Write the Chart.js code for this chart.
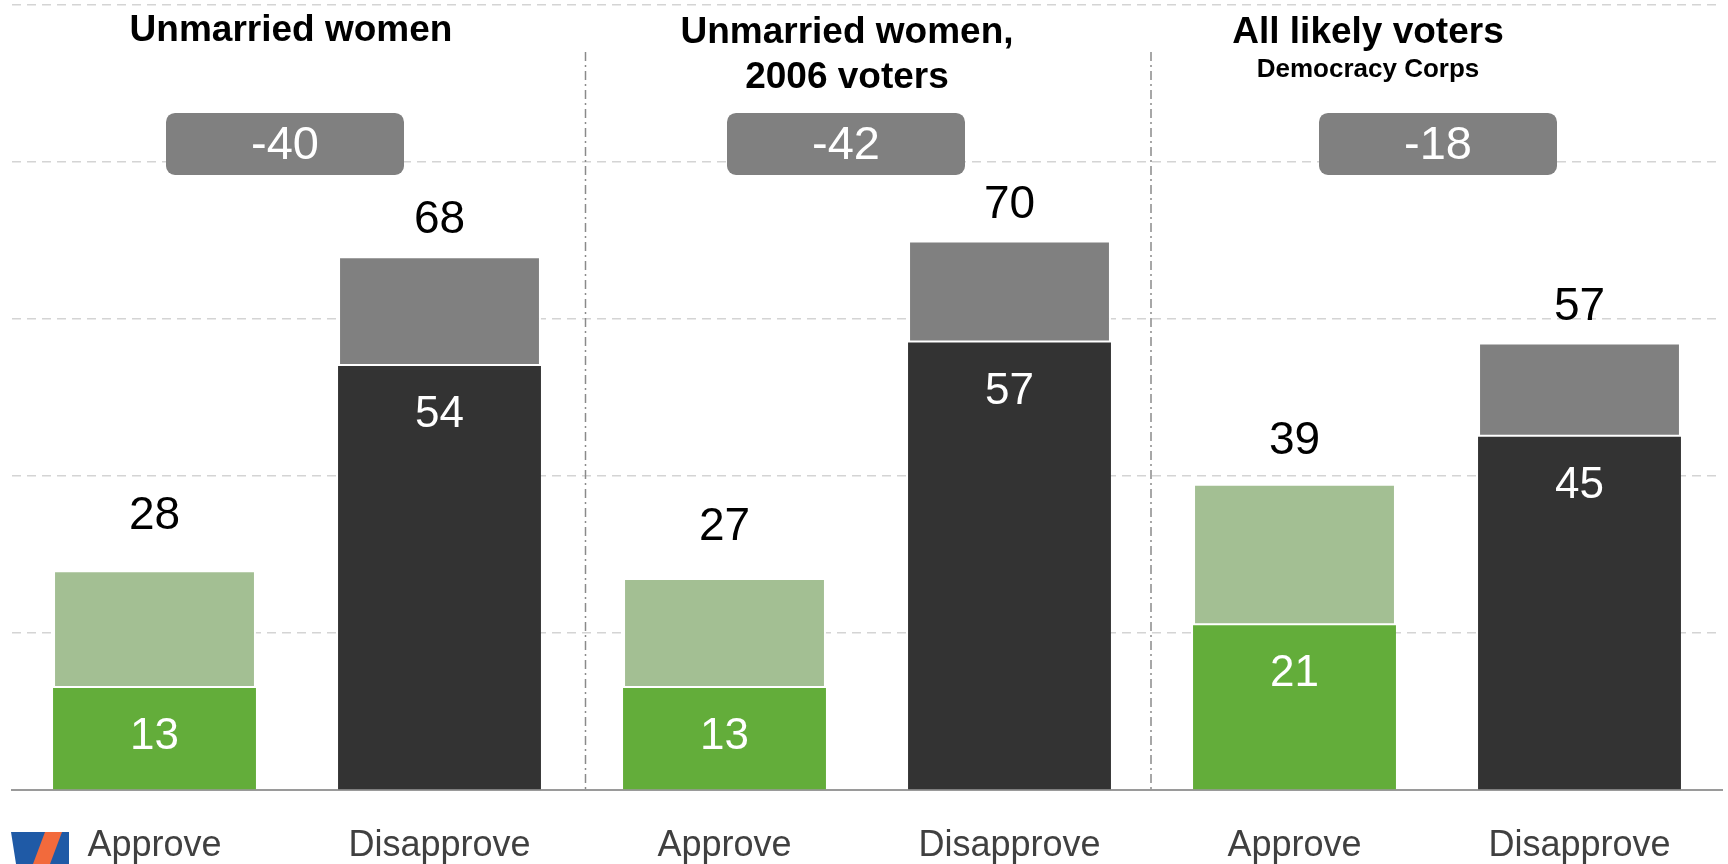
<!DOCTYPE html>
<html>
<head>
<meta charset="utf-8">
<script src="https://cdn.jsdelivr.net/npm/chart.js@4/dist/chart.umd.min.js"></script>
<style>
  html, body { margin: 0; padding: 0; background: #fff; }
  #wrap { width: 1728px; height: 864px; position: relative; }
</style>
</head>
<body>
<div id="wrap"><canvas id="chart"></canvas></div>
<script>
// approve / disapprove, strong vs total, three groups

const categories = ['Approve', 'Disapprove', 'Approve', 'Disapprove', 'Approve', 'Disapprove'];
const strongValues = [13, 54, 13, 57, 21, 45];
const totalValues = [28, 68, 27, 70, 39, 57];
const netValues = [-40, -42, -18];
const groupTitles = [['Unmarried women'], ['Unmarried women,', '2006 voters'], ['All likely voters']];
const groupSubtitles = ['', '', 'Democracy Corps'];

const strongColors = ['#63AD3A', '#333333', '#63AD3A', '#333333', '#63AD3A', '#333333'];
const softColors = ['#A3BF93', '#808080', '#A3BF93', '#808080', '#A3BF93', '#808080'];

const FONT = "'Liberation Sans', Arial, sans-serif";
// pixel nudges of the titles, net boxes, separators and total labels
const titleShift = [-6, -20, -69];
const boxShift = [-12, -21, 1];
const sepShift = [3.5, -1];
const totalLift = [54, 36, 51, 35, 43, 35];

const overlay = {
  id: 'overlay',
  beforeDatasetsDraw(chart) {
    const { ctx, scales: { x, y }, chartArea } = chart;
    ctx.save();
    ctx.strokeStyle = '#8a8a8a';
    ctx.lineWidth = 1.5;
    ctx.setLineDash([9, 4, 2, 4]);
    [1.5, 3.5].forEach((v, k) => {
      const px = Math.round(x.getPixelForValue(v)) + sepShift[k];
      ctx.beginPath();
      ctx.moveTo(px, y.getPixelForValue(94));
      ctx.lineTo(px, chartArea.bottom);
      ctx.stroke();
    });
    ctx.restore();
  },
  afterDatasetsDraw(chart) {
    const { ctx, scales: { x, y } } = chart;
    const strong = chart.getDatasetMeta(0).data;
    const soft = chart.getDatasetMeta(1).data;
    ctx.save();
    ctx.textAlign = 'center';
    ctx.textBaseline = 'middle';
    strong.forEach((bar, i) => {
      ctx.fillStyle = '#fff';
      ctx.font = `44px ${FONT}`;
      ctx.fillText(String(strongValues[i]), bar.x, bar.y + 49);
      ctx.fillStyle = '#000';
      ctx.font = `46px ${FONT}`;
      ctx.fillText(String(totalValues[i]), soft[i].x, soft[i].y - totalLift[i]);
    });

    netValues.forEach((v, g) => {
      const cx = (x.getPixelForValue(2 * g) + x.getPixelForValue(2 * g + 1)) / 2;
      // titles
      const tx = cx + titleShift[g];
      ctx.fillStyle = '#000';
      ctx.textBaseline = 'alphabetic';
      ctx.font = `bold 37px ${FONT}`;
      groupTitles[g].forEach((line, k) => ctx.fillText(line, tx, (k === 0 && groupTitles[g].length === 1 && !groupSubtitles[g] ? 41 : 43) + k * 45));
      if (groupSubtitles[g]) {
        ctx.font = `bold 26px ${FONT}`;
        ctx.fillText(groupSubtitles[g], tx, 77);
      }
      // net box
      const bx = cx + boxShift[g];
      const by = y.getPixelForValue(82.3);
      ctx.fillStyle = '#808080';
      ctx.beginPath();
      ctx.roundRect(bx - 119, by - 31, 238, 62, 9);
      ctx.fill();
      ctx.fillStyle = '#fff';
      ctx.textBaseline = 'middle';
      ctx.font = `47px ${FONT}`;
      ctx.fillText(String(v), bx, by + 2);
    });

    // logo, bottom left
    ctx.fillStyle = '#1F5AA6';
    ctx.beginPath();
    ctx.moveTo(11, 832); ctx.lineTo(69, 832); ctx.lineTo(69, 864); ctx.lineTo(16, 864);
    ctx.closePath(); ctx.fill();
    ctx.fillStyle = '#F26A3C';
    ctx.beginPath();
    ctx.moveTo(45, 832); ctx.lineTo(62, 832); ctx.lineTo(50, 864); ctx.lineTo(33, 864);
    ctx.closePath(); ctx.fill();
    ctx.restore();
  }
};

new Chart(document.getElementById('chart').getContext('2d'), {
  type: 'bar',
  data: {
    labels: categories,
    datasets: [
      {
        label: 'Strongly',
        data: strongValues,
        backgroundColor: strongColors,
        grouped: false,
        categoryPercentage: 1,
        barPercentage: 0.712,
        borderWidth: 0
      },
      {
        label: 'Total',
        data: strongValues.map((v, i) => [v, totalValues[i]]),
        backgroundColor: softColors,
        borderColor: '#ffffff',
        borderWidth: 2,
        borderSkipped: false,
        grouped: false,
        categoryPercentage: 1,
        barPercentage: 0.712
      }
    ]
  },
  options: {
    responsive: true,
    maintainAspectRatio: false,
    animation: false,
    layout: { padding: { top: 5, left: 12, right: 6, bottom: 0 } },
    plugins: { legend: { display: false }, tooltip: { enabled: false } },
    scales: {
      x: {
        grid: { display: false, drawTicks: false, tickLength: 0 },
        border: { display: true, color: '#9a9a9a', width: 2 },
        ticks: {
          color: '#404040',
          font: { family: FONT, size: 36 },
          padding: 34,
          maxRotation: 0,
          autoSkip: false
        },
        afterFit(scale) { scale.height = 74; }
      },
      y: {
        min: 0,
        max: 100,
        ticks: { display: false, stepSize: 20 },
        grid: { color: '#d4d4d4', lineWidth: 1.5, drawTicks: false },
        border: { display: false, dash: [9, 6] },
        afterFit(scale) { scale.width = 0; }
      }
    }
  },
  plugins: [overlay]
});
</script>
</body>
</html>
